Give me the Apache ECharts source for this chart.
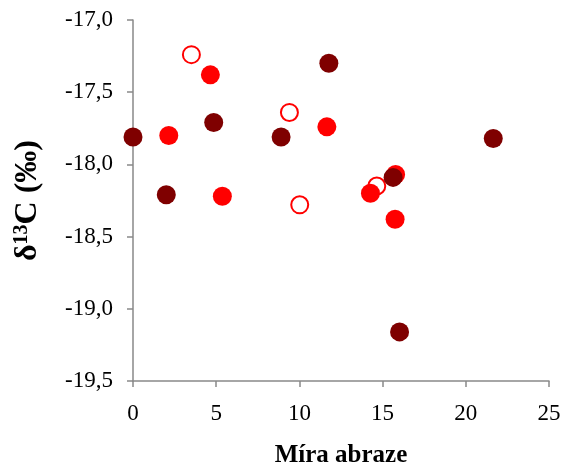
<!DOCTYPE html>
<html><head><meta charset="utf-8">
<script src="https://cdn.jsdelivr.net/npm/echarts@6/dist/echarts.min.js"></script>
<style>html,body{margin:0;padding:0;background:#fff}#c{width:567px;height:468px}</style>
</head><body><div id="c"></div>
<script>
var darkPoints = [[0,-17.81],[2.0,-18.21],[4.85,-17.71],[8.9,-17.81],[11.77,-17.30],[15.63,-18.09],[16.02,-19.16],[21.65,-17.82]];
var redPoints = [[2.15,-17.80],[4.65,-17.38],[5.37,-18.22],[11.65,-17.74],[14.27,-18.20],[15.75,-18.38],[15.78,-18.07]];
var openPoints = [[3.51,-17.24],[9.40,-17.64],[10.02,-18.28],[14.65,-18.15]];
var xName = 'Míra abraze';
var font = '"Liberation Serif","Times New Roman",serif';
var chart = echarts.init(document.getElementById('c'));
var axisGray = '#898989';
chart.setOption({
  animation:false,
  backgroundColor:'#fff',
  grid:{left:133,right:18,top:20,bottom:87,containLabel:false,outerBoundsMode:'none'},
  xAxis:{type:'value',min:0,max:25,interval:5,
    name:xName,nameLocation:'middle',nameGap:62,
    nameTextStyle:{fontFamily:font,fontSize:25,fontWeight:'bold',color:'#000'},
    axisLine:{lineStyle:{color:axisGray,width:1.5}},
    axisTick:{show:true,length:6,lineStyle:{color:axisGray,width:1.5}},
    axisLabel:{fontFamily:font,fontSize:23,color:'#000',margin:21},
    splitLine:{show:false}},
  yAxis:{type:'value',min:-19.5,max:-17,interval:0.5,
    name:'{a|δ}{s|13}{a|C (‰)}',nameLocation:'middle',nameGap:89,nameRotate:90,
    nameTextStyle:{fontFamily:font,fontSize:31,fontWeight:'bold',color:'#000',
      rich:{a:{fontFamily:font,fontSize:32,fontWeight:'bold',color:'#000'},
            s:{fontFamily:font,fontSize:20,fontWeight:'bold',color:'#000',verticalAlign:'top'}}},
    axisLine:{show:true,lineStyle:{color:axisGray,width:1.5}},
    axisTick:{show:true,length:6,lineStyle:{color:axisGray,width:1.5}},
    axisLabel:{fontFamily:font,fontSize:23,color:'#000',margin:20,
      formatter:function(v){return v.toFixed(1).replace('.',',');}},
    splitLine:{show:false}},
  series:[
    {type:'scatter',data:openPoints,symbol:'circle',symbolSize:17,clip:false,
      itemStyle:{color:'#fff',borderColor:'#ff0000',borderWidth:2,opacity:1}},
    {type:'scatter',data:redPoints,symbol:'circle',symbolSize:19,clip:false,
      itemStyle:{color:'#ff0000',opacity:1}},
    {type:'scatter',data:darkPoints,symbol:'circle',symbolSize:19,clip:false,
      itemStyle:{color:'#7f0000',opacity:1}}
  ]
});
</script></body></html>
